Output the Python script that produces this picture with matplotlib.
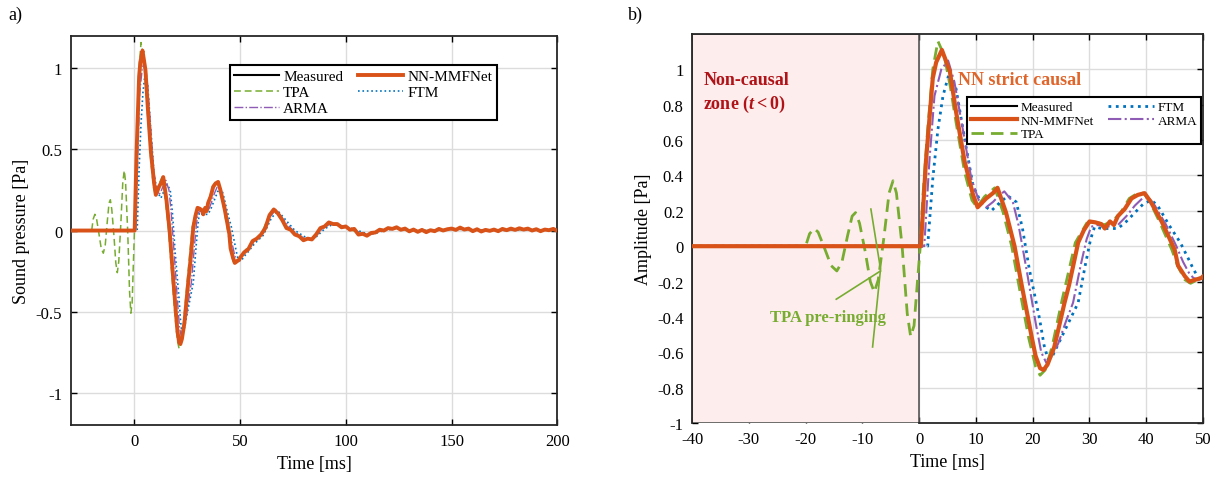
from matplotlib import pyplot as plt

plt.rcParams["font.family"] = ["Liberation Serif", "DejaVu Serif"]
plt.rcParams["mathtext.fontset"] = "custom"
plt.rcParams["mathtext.it"] = "Liberation Serif:italic:bold"
plt.rcParams["mathtext.rm"] = "Liberation Serif:bold"
plt.rcParams["axes.unicode_minus"] = False

# ---- data (time in ms, pressure in Pa) ----
meas_t = [-40, 0.3, 1.2, 2.4, 3.0, 4.0, 5.4, 6.5, 8.0, 9.5, 10.3, 11.8, 13.0, 13.8,
          15.3, 16.8, 18.0, 19.8, 20.5, 21.3, 21.9, 22.6, 23.8, 25.6, 26.4, 28.0,
          29.0, 30.0, 31.0, 32.1, 32.7, 33.6, 34.3, 35.0, 36.2, 37.4, 38.5, 39.7,
          40.8, 42.7, 44.0, 45.0, 45.6, 46.8, 47.6, 48.6, 49.7,
          50, 52, 54, 56, 58, 60, 62, 64, 66, 68, 70, 72, 74, 76, 78, 80, 82, 84,
          86, 88, 90, 92, 94, 96, 98, 100, 102, 104, 106, 108, 110, 112, 114, 116,
          118, 120, 122, 124, 126, 128, 130, 132, 134, 136, 138, 140, 142, 144,
          146, 148, 150, 152, 154, 156, 158, 160, 162, 164, 166, 168, 170, 172,
          174, 176, 178, 180, 182, 184, 186, 188, 190, 192, 194, 196, 198, 200]
meas_y = [0, 0, 0.48, 0.95, 1.04, 1.11, 0.99, 0.76, 0.48, 0.29, 0.22, 0.27, 0.30, 0.33,
          0.19, 0.0, -0.21, -0.51, -0.62, -0.69, -0.70, -0.67, -0.57, -0.32, -0.22, 0.02,
          0.09, 0.14, 0.135, 0.125, 0.10, 0.14, 0.12, 0.17, 0.21, 0.27, 0.29, 0.30,
          0.25, 0.14, 0.05, -0.02, -0.11, -0.17, -0.20, -0.19, -0.18,
          -0.170, -0.135, -0.115, -0.065, -0.050, -0.025, 0.015, 0.095, 0.130, 0.105,
          0.065, 0.015, 0.005, -0.025, -0.035, -0.060, -0.050, -0.055, -0.025, 0.015,
          0.025, 0.050, 0.040, 0.040, 0.020, 0.025, 0.005, 0.010, -0.025, -0.020,
          -0.032, -0.015, -0.012, 0.005, 0.000, 0.015, 0.010, 0.020, 0.005, 0.012,
          -0.005, 0.006, -0.008, 0.004, -0.010, 0.002, -0.004, 0.010, 0.000, 0.008,
          0.012, 0.004, 0.018, 0.006, 0.012, -0.004, 0.008, -0.006, 0.004, -0.002,
          0.006, -0.004, 0.010, 0.002, 0.012, 0.004, 0.014, 0.006, 0.012, 0.000,
          0.008, -0.004, 0.006, 0.002, 0.010, -0.002]

# NN-MMFNet sits on top of the measured trace at this resolution
nn_t = meas_t
nn_y = meas_y

tpa_t = [-40, -20, -19.3, -18.5, -17.8, -16.8, -15.5, -14.5, -13.6, -12.6, -11.8,
         -11.2, -10.5, -9.5, -8.6, -7.9, -7.2, -6.2, -5.3, -4.6, -4.0, -3.0, -2.1,
         -1.5, -0.9, -0.3, 0.2, 0.65, 1.5, 2.4, 3.3, 4.4, 5.5, 6.5, 8.0, 9.3, 10.2,
         11.5, 13.3, 14.8, 16.3, 17.5, 19.3, 20.5, 21.3, 22.2, 23.4, 25.2, 27.5,
         29.5, 31, 32.5, 34, 35.5, 37, 38.5, 39.5, 40.5, 42.3, 44.5, 45.5, 46.8,
         47.8, 49, 50, 52, 56, 60, 64, 66, 70, 74, 80, 84, 88, 92, 96, 102, 108,
         112, 116, 122, 130, 140, 150, 160, 170, 180, 190, 200]
tpa_y = [0, 0, 0.07, 0.10, 0.08, 0.0, -0.11, -0.14, -0.09, 0.06, 0.17,
         0.19, 0.13, -0.03, -0.20, -0.26, -0.19, 0.05, 0.30, 0.37, 0.30, 0.0, -0.38,
         -0.51, -0.45, -0.20, 0.0, 0.28, 0.66, 1.0, 1.16, 1.08, 0.90, 0.70, 0.42, 0.26, 0.22,
         0.28, 0.33, 0.19, 0.0, -0.21, -0.52, -0.68, -0.73, -0.70, -0.57, -0.30, 0.02,
         0.13, 0.14, 0.12, 0.14, 0.19, 0.27, 0.30, 0.30, 0.26, 0.14, -0.02, -0.11, -0.19,
         -0.21, -0.19, -0.17, -0.13, -0.07, -0.025, 0.10, 0.13, 0.06, 0.0, -0.055, -0.045,
         0.01, 0.045, 0.035, 0.008, -0.025, -0.02, 0.0, 0.015, 0.0, 0.0, 0.01, 0.005,
         0.0, 0.005, 0.005, 0.0]

arma_t = [-40, 0.9, 1.8, 2.7, 3.9, 5.1, 6.2, 7.7, 9.2, 10.5, 11.8, 13.0, 14.2, 15.0,
          16.5, 17.5, 18.9, 20.5, 21.5, 22.4, 23.2, 24.5, 25.8, 27.1, 28.5, 29.5,
          30.3, 31.5, 33, 35, 36.5, 38, 39.3, 40.3, 41.5, 43.5, 45.3, 46.5, 47.5,
          48.3, 49.3, 50.5, 52, 56, 60, 64, 67, 71, 75, 81, 85, 89, 93, 97, 103,
          109, 113, 117, 123, 131, 141, 151, 161, 171, 181, 191, 200]
arma_y = [0, 0, 0.48, 0.85, 1.0, 1.05, 0.93, 0.66, 0.38, 0.26, 0.22, 0.25, 0.29, 0.31,
          0.25, 0.12, -0.13, -0.43, -0.60, -0.66, -0.63, -0.55, -0.43, -0.32, -0.10, 0.04,
          0.11, 0.12, 0.11, 0.12, 0.17, 0.23, 0.27, 0.28, 0.23, 0.12, 0.0, -0.09, -0.15,
          -0.18, -0.19, -0.17, -0.14, -0.08, -0.03, 0.08, 0.13, 0.06, 0.0, -0.055, -0.045,
          0.01, 0.045, 0.035, 0.008, -0.025, -0.02, 0.0, 0.015, 0.0, 0.0, 0.01, 0.005,
          0.0, 0.005, 0.005, 0.0]

ftm_t = [-40, 1.5, 2.4, 3.3, 4.2, 5.3, 6.5, 8.0, 9.5, 11.0, 12.7, 14.0, 15.6, 17.1,
         18.2, 19.4, 21.2, 22.0, 22.7, 23.5, 25, 26.5, 28, 29.3, 30.2, 30.9, 32.1,
         35, 36.5, 38, 39.5, 40.9, 42, 44, 46, 47.4, 48.3, 49.2, 50.5, 52, 54, 57,
         61, 65, 68, 72, 76, 82, 86, 90, 94, 98, 104, 110, 114, 118, 124, 132, 142,
         152, 162, 172, 182, 192, 200]
ftm_y = [0, 0, 0.38, 0.66, 0.85, 0.98, 0.89, 0.61, 0.34, 0.24, 0.20, 0.24, 0.285, 0.25,
         0.10, -0.13, -0.41, -0.56, -0.64, -0.62, -0.52, -0.42, -0.32, -0.10, 0.04, 0.11, 0.10,
         0.10, 0.14, 0.19, 0.24, 0.26, 0.23, 0.12, 0.02, -0.07, -0.13, -0.18, -0.19, -0.16,
         -0.13, -0.08, -0.03, 0.08, 0.12, 0.06, 0.0, -0.05, -0.04, 0.01, 0.04, 0.03, 0.008,
         -0.02, -0.018, 0.0, 0.013, 0.0, 0.0, 0.008, 0.004, 0.0, 0.004, 0.004, 0.0]

C_MEAS = "black"
C_NN = "#D95319"
C_TPA = "#77AC30"
C_FTM = "#0072BD"
C_ARMA = "#8E5BB5"


def style_axes(ax):
    ax.grid(True, color="#dcdcdc", linewidth=1.0)
    ax.set_axisbelow(True)
    ax.tick_params(direction="in", length=4, width=1.0, top=True, right=True,
                   labelsize=12, pad=6)
    for spine in ax.spines.values():
        spine.set_linewidth(1.3)
        spine.set_color("#262626")


def draw(ax, lw):
    # lw: widths for measured, nn, tpa, ftm, arma
    h = {}
    h["Measured"], = ax.plot(meas_t, meas_y, color=C_MEAS, lw=lw[0], zorder=3)
    h["TPA"], = ax.plot(tpa_t, tpa_y, color=C_TPA, lw=lw[2], zorder=3,
                        ls=(0, (4.5, 2.5)))
    h["FTM"], = ax.plot(ftm_t, ftm_y, color=C_FTM, lw=lw[3], zorder=3, ls=":")
    h["ARMA"], = ax.plot(arma_t, arma_y, color=C_ARMA, lw=lw[4], zorder=3, ls="-.")
    h["NN-MMFNet"], = ax.plot(nn_t, nn_y, color=C_NN, lw=lw[1], zorder=4)
    return h


def main():
    fig = plt.figure(figsize=(12.22, 4.81), dpi=100)

    # ---- panel a ----
    ax1 = fig.add_axes([0.0577, 0.1143, 0.3985, 0.8087])
    style_axes(ax1)
    h = draw(ax1, [1.5, 2.8, 1.1, 1.2, 1.0])
    ax1.set_xlim(-30, 200)
    ax1.set_ylim(-1.2, 1.2)
    ax1.set_xticks([0, 50, 100, 150, 200])
    ax1.set_yticks([-1, -0.5, 0, 0.5, 1])
    ax1.set_yticklabels(["-1", "-0.5", "0", "0.5", "1"])
    ax1.set_xlabel("Time [ms]", fontsize=13)
    ax1.set_ylabel("Sound pressure [Pa]", fontsize=13)
    order = ["Measured", "TPA", "ARMA", "NN-MMFNet", "FTM"]
    leg = ax1.legend([h[k] for k in order], order, ncol=2, loc="upper left",
                     bbox_to_anchor=(0.327, 0.925), borderaxespad=0, fontsize=11,
                     handlelength=2.9, fancybox=False, framealpha=1,
                     edgecolor="black", columnspacing=1.0, handletextpad=0.3,
                     labelspacing=0.15, borderpad=0.3)
    leg.get_frame().set_linewidth(1.5)

    # ---- panel b ----
    ax2 = fig.add_axes([0.5663, 0.1185, 0.4182, 0.8087])
    style_axes(ax2)
    ax2.axvspan(-40, 0, facecolor="#FDEEED", edgecolor="#555555", lw=1.2, zorder=1)
    ax2.spines["bottom"].set_bounds(0, 50)
    h = draw(ax2, [1.5, 3.0, 2.0, 2.0, 1.5])
    ax2.set_xlim(-40, 50)
    ax2.set_ylim(-1, 1.2)
    ax2.set_xticks(range(-40, 51, 10))
    yt = [-1, -0.8, -0.6, -0.4, -0.2, 0, 0.2, 0.4, 0.6, 0.8, 1]
    ax2.set_yticks(yt)
    ax2.set_yticklabels([f"{v:g}" for v in yt])
    ax2.set_xlabel("Time [ms]", fontsize=13)
    ax2.set_ylabel("Amplitude [Pa]", fontsize=13)
    order = ["Measured", "NN-MMFNet", "TPA", "FTM", "ARMA"]
    leg = ax2.legend([h[k] for k in order], order, ncol=2, loc="upper left",
                     bbox_to_anchor=(0.538, 0.838), borderaxespad=0, fontsize=9.5,
                     handlelength=3.5, fancybox=False, framealpha=1,
                     edgecolor="black", columnspacing=1.0, handletextpad=0.3,
                     labelspacing=0.1, borderpad=0.3)
    leg.get_frame().set_linewidth(1.5)
    leg.set_zorder(6)

    ax2.text(-38, 0.99, "Non-causal\nzone ($t<0$)", color="#B01217",
             fontsize=13, fontweight="bold", va="top", ha="left", zorder=5,
             linespacing=1.3)
    ax2.text(6.9, 0.94, "NN strict causal", color="#E0652A", fontsize=13,
             fontweight="bold", va="center", ha="left", zorder=5)
    ax2.text(-16.0, -0.40, "TPA pre-ringing", color=C_TPA, fontsize=12,
             fontweight="bold", va="center", ha="center", zorder=5)
    ax2.plot([-8.5, -6.8, -8.2], [0.21, -0.13, -0.57], color=C_TPA, lw=1.2, zorder=5)
    ax2.plot([-6.8, -14.6], [-0.14, -0.30], color=C_TPA, lw=1.2, zorder=5)

    fig.text(15 / 1222, 1 - 15 / 481, "a)", fontsize=13, ha="center", va="center")
    fig.text(635 / 1222, 1 - 15 / 481, "b)", fontsize=13, ha="center", va="center")

    fig.savefig("out.png", dpi=100)


if __name__ == "__main__":
    main()
